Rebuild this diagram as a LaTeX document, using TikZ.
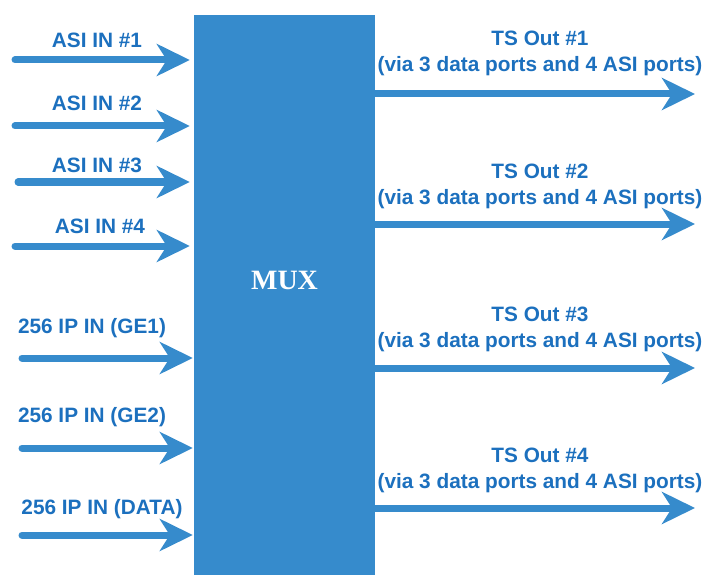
\documentclass[tikz,border=0pt]{standalone}
\usepackage{fontspec}
\setmainfont{Liberation Sans}
\newfontfamily\muxfont{Liberation Serif}
\usetikzlibrary{arrows.meta, positioning}

\definecolor{muxblue}{RGB}{54,139,204}
\definecolor{textblue}{RGB}{28,112,190}

\begin{document}
\begin{tikzpicture}[
    x=1pt, y=-1pt,
    muxbox/.style={rectangle, fill=muxblue, inner sep=0pt, minimum width=181pt, minimum height=560pt},
    label/.style={text=textblue, font=\fontsize{20.8}{26}\selectfont\bfseries, align=center, inner sep=0pt},
    arrow/.style={-{Stealth[length=33pt, width=32pt, inset=10pt]}, line width=7pt, line cap=round, draw=muxblue}
]
\useasboundingbox (0,0) rectangle (707,575);

% Nodes
\node[muxbox] (mux) at (284.5,295) {};
\node[text=white, font=\muxfont\fontsize{28}{32}\selectfont\bfseries] (muxlabel) at (284.5,280) {MUX};

\node[label] (asi1) at (97,40) {ASI IN \#1};
\node[label] (asi2) at (97,103) {ASI IN \#2};
\node[label] (asi3) at (97,165) {ASI IN \#3};
\node[label] (asi4) at (100,226) {ASI IN \#4};
\node[label] (ge1) at (92,328) {256 IP IN (GE1)};
\node[label] (ge2) at (92,417) {256 IP IN (GE2)};
\node[label] (data) at (102,509) {256 IP IN (DATA)};

\node[label] (ts1) at (540,53) {TS Out \#1\\(via 3 data ports and 4 ASI ports)};
\node[label] (ts2) at (540,186) {TS Out \#2\\(via 3 data ports and 4 ASI ports)};
\node[label] (ts3) at (540,329) {TS Out \#3\\(via 3 data ports and 4 ASI ports)};
\node[label] (ts4) at (540,470) {TS Out \#4\\(via 3 data ports and 4 ASI ports)};

% Arrow ends
\coordinate (a1) at (15,60);
\coordinate (a2) at (15,126);
\coordinate (a3) at (18,182);
\coordinate (a4) at (15,246);
\coordinate (b1) at (22,358);
\coordinate (b2) at (22,448);
\coordinate (b3) at (22,535);
\coordinate (o1) at (695,94);
\coordinate (o2) at (695,224);
\coordinate (o3) at (695,368);
\coordinate (o4) at (695,508);

% Arrows
\foreach \s in {a1,a2,a3,a4}
  \draw[arrow, shorten >=4pt] (\s) -- (\s -| mux.west);
\foreach \s in {b1,b2,b3}
  \draw[arrow, shorten >=1pt] (\s) -- (\s -| mux.west);
\foreach \s in {o1,o2,o3,o4}
  \draw[arrow] (\s -| mux.east) -- (\s);

\end{tikzpicture}
\end{document}
